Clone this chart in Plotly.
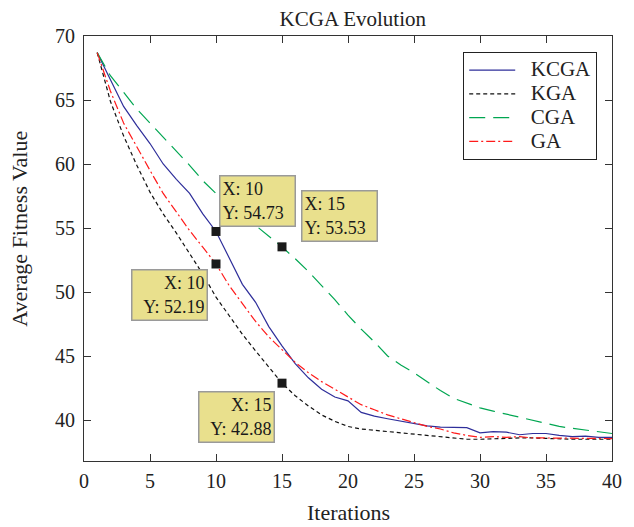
import plotly.graph_objects as go

iterations = list(range(1, 41))
kcga = [68.7, 66.6, 64.5, 63.0, 61.6, 60.0, 58.8, 57.7, 56.1, 54.73,
        52.6, 50.6, 49.2, 47.3, 45.8, 44.4, 43.3, 42.4, 41.8, 41.5,
        40.6, 40.3, 40.1, 39.9, 39.7, 39.55, 39.45, 39.4, 39.4, 39.0,
        39.1, 39.05, 38.85, 38.95, 38.95, 38.8, 38.7, 38.75, 38.65, 38.65]
kga = [68.7, 64.9, 62.2, 59.9, 57.8, 56.1, 54.6, 53.0, 51.4, 49.6,
       48.1, 46.7, 45.4, 44.1, 42.88, 41.9, 41.1, 40.4, 39.9, 39.5,
       39.3, 39.2, 39.1, 39.0, 38.9, 38.8, 38.7, 38.6, 38.5, 38.5,
       38.55, 38.6, 38.6, 38.6, 38.55, 38.55, 38.5, 38.5, 38.5, 38.5]
cga = [68.7, 66.9, 65.6, 64.3, 63.2, 62.1, 61.0, 59.9, 58.7, 57.7,
       56.6, 55.8, 55.2, 54.4, 53.53, 52.6, 51.6, 50.5, 49.4, 48.2,
       47.1, 46.1, 45.0, 44.3, 43.7, 43.0, 42.3, 41.7, 41.3, 40.95,
       40.7, 40.45, 40.2, 39.95, 39.7, 39.5, 39.35, 39.2, 39.05, 38.95]
ga = [68.7, 65.7, 63.2, 61.3, 59.5, 57.7, 56.2, 54.8, 53.5, 52.19,
      50.5, 49.1, 47.7, 46.5, 45.5, 44.5, 43.7, 43.0, 42.4, 41.8,
      41.2, 40.8, 40.4, 40.1, 39.8, 39.5, 39.3, 39.0, 38.8, 38.65,
      38.7, 38.65, 38.7, 38.6, 38.6, 38.6, 38.6, 38.55, 38.55, 38.55]

series_names = ["KCGA", "KGA", "CGA", "GA"]

tip_x = [10, 15, 10, 15]
tip_y = [54.73, 53.53, 52.19, 42.88]
tip_offsets = [(41, -30), (57, -31), (-47, 31), (-46, 34)]
tip_align = ["left", "left", "right", "right"]

x_ticks = [0, 5, 10, 15, 20, 25, 30, 35, 40]
y_ticks = [40, 45, 50, 55, 60, 65, 70]

FONT = "Liberation Serif, Times New Roman, serif"


def legend_name(s):
    return f'<span style="font-size:21px">\u00a0\u00a0{s}</span>'


fig = go.Figure()
fig.add_trace(go.Scatter(x=iterations, y=kcga, name=legend_name(series_names[0]), mode="lines",
                         line=dict(color="#2E2E9A", width=1.2)))
fig.add_trace(go.Scatter(x=iterations, y=kga, name=legend_name(series_names[1]), mode="lines",
                         line=dict(color="#111111", width=1.2, dash="4px,3px")))
fig.add_trace(go.Scatter(x=iterations, y=cga, name=legend_name(series_names[2]), mode="lines",
                         line=dict(color="#00A651", width=1.2, dash="16px,8px")))
fig.add_trace(go.Scatter(x=iterations, y=ga, name=legend_name(series_names[3]), mode="lines",
                         line=dict(color="#FF1A1A", width=1.2, dash="9px,3px,2px,3px")))
fig.add_trace(go.Scatter(x=tip_x, y=tip_y, mode="markers", showlegend=False,
                         marker=dict(symbol="square", size=9, color="#1A1A1A"),
                         hoverinfo="skip"))

for xv, yv, (ox, oy), al in zip(tip_x, tip_y, tip_offsets, tip_align):
    fig.add_annotation(x=xv, y=yv, xref="x", yref="y",
                       text=f"X: {xv}<br>Y: {yv:.2f}", align=al,
                       showarrow=True, arrowcolor="rgba(0,0,0,0)", ax=ox, ay=oy,
                       xanchor="center", yanchor="middle",
                       bgcolor="#E9E08D", bordercolor="#9A9A9A", borderwidth=1.5,
                       borderpad=2, width=70, height=45,
                       font=dict(family=FONT, size=18, color="#1a1a1a"))

# axis labels
fig.add_annotation(text="Average Fitness Value", xref="paper", yref="paper",
                   x=-0.1227, y=0.547, textangle=-90, showarrow=False,
                   xanchor="center", yanchor="middle",
                   font=dict(family=FONT, size=22, color="#222"))
fig.add_annotation(text="Iterations", xref="paper", yref="paper",
                   x=0.5, y=-0.122, showarrow=False,
                   xanchor="center", yanchor="middle",
                   font=dict(family=FONT, size=22, color="#222"))

fig.update_layout(
    width=634, height=527,
    margin=dict(l=84, r=12, t=36, b=66),
    paper_bgcolor="white", plot_bgcolor="white",
    title=dict(text="KCGA Evolution", x=0.5565, xanchor="center",
               y=1 - 19 / 527, yanchor="middle",
               font=dict(family=FONT, size=21, color="#222")),
    legend=dict(x=0.972, y=0.962, xanchor="right", yanchor="top",
                bgcolor="white", bordercolor="#222", borderwidth=1,
                font=dict(family=FONT, size=16, color="#222"),
                itemwidth=46, tracegroupgap=0),
    showlegend=True,
)
fig.update_xaxes(range=[0, 40], tickvals=x_ticks, ticktext=[str(v) for v in x_ticks],
                 ticks="inside", ticklen=7, tickcolor="#333", showgrid=False,
                 zeroline=False, showline=True, linecolor="#333", linewidth=1,
                 mirror="ticks", ticklabelstandoff=2,
                 tickfont=dict(family=FONT, size=20, color="#222"))
fig.update_yaxes(range=[36.8, 70], tickvals=y_ticks, ticktext=[str(v) for v in y_ticks],
                 ticks="inside", ticklen=7, tickcolor="#333", showgrid=False,
                 zeroline=False, showline=True, linecolor="#333", linewidth=1,
                 mirror="ticks", ticklabelstandoff=4,
                 tickfont=dict(family=FONT, size=20, color="#222"))

fig.write_html("out.html", config={"displayModeBar": False},
               post_script="document.body.style.margin='0px';")
